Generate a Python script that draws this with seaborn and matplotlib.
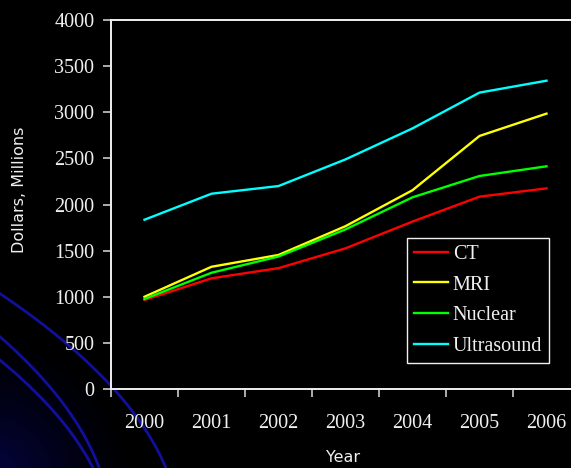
import numpy as np
import pandas as pd
import matplotlib
matplotlib.use("Agg")
import matplotlib.pyplot as plt
from matplotlib.lines import Line2D
import seaborn as sns

# Imaging spending by modality, millions of dollars
years = ["2000", "2001", "2002", "2003", "2004", "2005", "2006"]
ct = [965, 1200, 1310, 1525, 1815, 2085, 2175]
mri = [1000, 1325, 1453, 1765, 2155, 2743, 2985]
nuclear = [976, 1260, 1436, 1730, 2078, 2309, 2414]
ultrasound = [1835, 2117, 2200, 2489, 2825, 3213, 3342]

series_names = ["CT", "MRI", "Nuclear", "Ultrasound"]
series_colors = ["#ff0000", "#ffff00", "#00ff00", "#00ffff"]
y_ticks = [0, 500, 1000, 1500, 2000, 2500, 3000, 3500, 4000]

df = pd.DataFrame({
    "pos": np.tile(np.arange(len(years)), len(series_names)),
    "value": ct + mri + nuclear + ultrasound,
    "modality": np.repeat(series_names, len(years)),
})

W, H = 571, 468
fg = "#f0f0f0"
fig = plt.figure(figsize=(W / 100, H / 100), dpi=100, facecolor="black")

# Slide backdrop: dark corner glow and sweeping blue arcs
bg = fig.add_axes([0, 0, 1, 1], zorder=0)
bg.set_xlim(0, W)
bg.set_ylim(H, 0)
bg.axis("off")
yy, xx = np.mgrid[0:H, 0:W]
r = np.hypot(xx + 10, yy - H - 10)
alpha = np.clip(1 - r / 150, 0, 1) ** 1.4 * 0.6
glow = np.zeros((H, W, 4))
glow[..., 0] = 0.03
glow[..., 1] = 0.03
glow[..., 2] = 0.45
glow[..., 3] = alpha
bg.imshow(glow, extent=(0, W, H, 0), aspect="auto", interpolation="bilinear")

arcs = [
    [(0, 295), (43, 323), (77, 350), (110, 388), (140, 423), (167, 468)],
    [(0, 337), (33, 368), (67, 407), (83, 437), (100, 468)],
    [(0, 360), (33, 390), (67, 427), (87, 457), (93, 468)],
]
for pts in arcs:
    px, py = np.array(pts, dtype=float).T
    coef = np.polyfit(py, px, 2)
    ys = np.linspace(py[0] - 20, 480, 200)
    bg.plot(np.polyval(coef, ys), ys, color="#10109c", lw=2.0, solid_capstyle="round")

# Chart area (extends past the right edge of the slide)
ax = fig.add_axes([111 / W, 1 - 389 / H, 469 / W, 369 / H], zorder=1)
ax.set_facecolor("black")
palette = dict(zip(series_names, series_colors))
sns.lineplot(data=df, x="pos", y="value", hue="modality", palette=palette,
             linewidth=1.7, ax=ax, legend=False)

ax.set_xlim(-0.5, len(years) - 0.5)
ax.set_ylim(0, 4000)
ax.set_xlabel("")
ax.set_ylabel("")
for s in ["left", "top", "bottom", "right"]:
    ax.spines[s].set_color(fg)
    ax.spines[s].set_linewidth(1.4)

ax.set_yticks(y_ticks)
ax.set_yticklabels([str(v) for v in y_ticks])
ax.tick_params(axis="y", direction="out", length=6, width=1.2, color="#cccccc",
               pad=6, labelsize=14.5, labelcolor=fg)

ax.set_xticks(np.arange(-0.5, len(years), 1.0))
ax.set_xticklabels([])
ax.tick_params(axis="x", which="major", direction="out", length=6, width=1.2,
               color="#cccccc")
ax.set_xticks(np.arange(len(years)), minor=True)
ax.set_xticklabels(years, minor=True)
ax.tick_params(axis="x", which="minor", length=0, pad=18, labelsize=14.5,
               labelcolor=fg)
for lbl in ax.get_yticklabels() + ax.get_xticklabels(minor=True):
    lbl.set_fontfamily("Liberation Serif")

fig.text(20 / W, 1 - 190 / H, "Dollars, Millions", rotation=90, ha="center",
         va="center", color=fg, fontsize=11.5, family="DejaVu Sans")
fig.text(343 / W, 1 - 458 / H, "Year", ha="center", va="center", color=fg,
         fontsize=11.5, family="DejaVu Sans")

handles = [Line2D([0], [0], color=c, lw=1.7) for c in series_colors]
leg = ax.legend(handles, series_names, loc="upper left",
                bbox_to_anchor=(407 / W, 1 - 238 / H), bbox_transform=fig.transFigure,
                frameon=True, fancybox=False, facecolor="black", edgecolor=fg,
                framealpha=1, borderaxespad=0, borderpad=0.33, handlelength=1.7,
                handletextpad=0.25, labelspacing=0.58,
                prop={"family": "Liberation Serif", "size": 14.5})
leg.get_frame().set_linewidth(1.0)
for t in leg.get_texts():
    t.set_color(fg)

fig.savefig("out.png", dpi=100, facecolor="black")
